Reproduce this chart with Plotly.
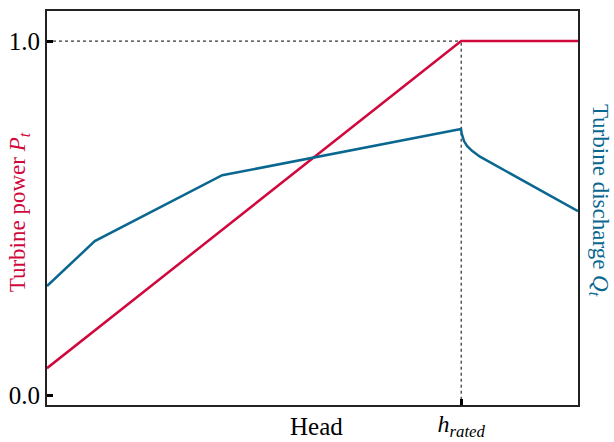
import plotly.graph_objects as go

h_rated = 0.78
x_power = [0.0, 0.78, 1.0]
power = [0.076, 1.0, 1.0]

x_discharge = [0.0, 0.090, 0.330, 0.7797, 0.7808, 0.7825, 0.7853, 0.791, 0.8004, 0.8154, 0.8531, 0.9096, 1.0]
discharge = [0.308, 0.435, 0.621, 0.7514, 0.7400, 0.7290, 0.7175, 0.7040, 0.6900, 0.6735, 0.6420, 0.5965, 0.5198]

y_ticks = [0.0, 1.0]
y_ticktext = ["0.0", "1.0"]

RED = "#D0083C"
BLUE = "#0A6790"
FONT = "Liberation Serif"

fig = go.Figure()
fig.add_trace(go.Scatter(x=[0.0, h_rated], y=[1.0, 1.0], mode="lines",
                         line=dict(color="black", width=1, dash="dot"), showlegend=False, hoverinfo="skip"))
fig.add_trace(go.Scatter(x=[h_rated, h_rated], y=[-0.03, 1.0], mode="lines",
                         line=dict(color="black", width=1, dash="dot"), showlegend=False, hoverinfo="skip"))
fig.add_trace(go.Scatter(x=x_power, y=power, mode="lines",
                         line=dict(color=RED, width=2.5), showlegend=False))
fig.add_trace(go.Scatter(x=x_discharge, y=discharge, mode="lines", yaxis="y2",
                         line=dict(color=BLUE, width=2.5), showlegend=False))

yr = [-0.028, 1.085]
fig.update_layout(
    width=614, height=442,
    margin=dict(l=47, r=36, t=11, b=37, autoexpand=False),
    paper_bgcolor="white", plot_bgcolor="white",
    font=dict(family=FONT, size=24, color="black"),
    xaxis=dict(range=[0, 1], tickvals=[h_rated], ticktext=["<i>h<sub>rated</sub></i>"],
               ticks="inside", ticklen=6, tickwidth=2.5, tickcolor="black",
               showline=True, linecolor="#222", linewidth=2, mirror=True,
               showgrid=False, zeroline=False, automargin=False,
               ticklabelstandoff=-4,
               tickfont=dict(size=24, family=FONT)),
    yaxis=dict(range=yr, tickvals=y_ticks, ticktext=y_ticktext,
               ticks="inside", ticklen=6, tickwidth=2.5, tickcolor="black",
               showline=True, linecolor="#222", linewidth=2, mirror=True,
               showgrid=False, zeroline=False, automargin=False,
               tickfont=dict(size=25, family=FONT)),
    yaxis2=dict(range=yr, overlaying="y", side="right", showticklabels=False, ticks="",
                showgrid=False, zeroline=False, showline=False, automargin=False),
    annotations=[
        dict(text="Head", xref="x", yref="paper", x=0.508, y=-0.055, xanchor="center", yanchor="middle",
             showarrow=False, font=dict(size=25, family=FONT, color="black")),
        dict(text="Turbine power <i>P<sub>t</sub></i>", xref="paper", yref="paper",
             x=-0.052, y=0.49, xanchor="center", yanchor="middle", textangle=-90,
             showarrow=False, font=dict(size=23, family=FONT, color=RED)),
        dict(text="Turbine discharge <i>Q<sub>t</sub></i>", xref="paper", yref="paper",
             x=1.04, y=0.52, xanchor="center", yanchor="middle", textangle=90,
             showarrow=False, font=dict(size=23, family=FONT, color=BLUE)),
    ],
)

fig.write_html("out.html", config={"displayModeBar": False},
               post_script="document.body.style.margin='0';")
